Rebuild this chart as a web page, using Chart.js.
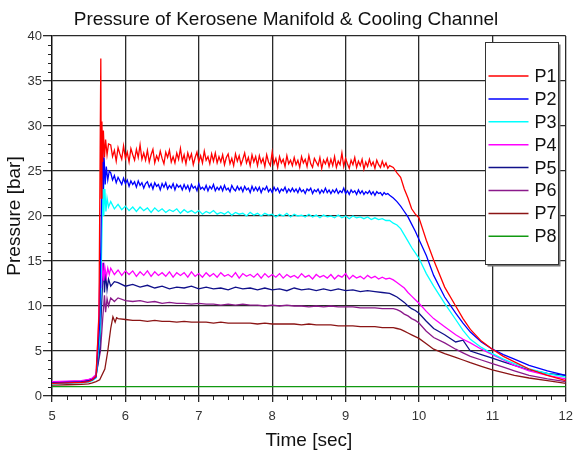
<!DOCTYPE html>
<html>
<head>
<meta charset="utf-8">
<script src="https://cdn.jsdelivr.net/npm/chart.js@4"></script>
<style>
  html, body { margin: 0; padding: 0; background: #fff; }
</style>
</head>
<body>
<canvas id="chart" width="580" height="450"></canvas>
<script>
// sample times
const tPre = [5.0, 5.2, 5.4, 5.5, 5.55, 5.6];
// plateau sampling grids: dense 5.800..9.600 every 0.025, fine every 0.05, coarse 5.9..9.6 every 0.1
const tDense = Array.from({ length: 153 }, (_, i) => +(5.8 + i * 0.025).toFixed(3));
const tFine = Array.from({ length: 77 }, (_, i) => +(5.8 + i * 0.05).toFixed(2));
const tCoarse = Array.from({ length: 38 }, (_, i) => +(5.9 + i * 0.1).toFixed(2));
const tDecay = [9.65, 9.7, 9.75, 9.8, 9.85, 9.9, 9.95, 10.0, 10.1, 10.2, 10.35,
  10.5, 10.6, 10.7, 10.85, 11.0, 11.15, 11.3, 11.5, 11.75, 12.0];

const labels = ['P1', 'P2', 'P3', 'P4', 'P5', 'P6', 'P7', 'P8'];
const colors = ['#ff0000', '#0000ff', '#00ffff', '#ff00ff', '#10108a', '#8b1a8b', '#8b1515', '#119911'];

// P1
const p1Pre = [1.4, 1.45, 1.5, 1.6, 1.8, 2.2];
const p1RiseT = [5.64, 5.665, 5.672, 5.68, 5.69, 5.70, 5.715, 5.73, 5.75, 5.77];
const p1Rise = [9, 37.5, 22, 30.5, 26, 29.5, 26.5, 28.5, 26.8, 28];
const p1Plat = [
  27.9, 26.6, 27.3, 26.1, 27.6, 26.9, 26.3, 27.8, 26.4, 27.1, 26.0, 27.5, 26.8, 26.2, 27.4, 26.5, 27.9, 26.3, 27.0, 26.2,
  27.3, 26.0, 26.8, 27.4, 25.9, 26.7, 26.2, 27.2, 26.4, 25.8, 27.1, 26.5, 27.3, 26.0, 26.6, 25.9, 27.0, 26.3, 27.5, 26.1,
  26.8, 25.8, 27.0, 26.3, 26.9, 25.7, 26.5, 27.1, 26.0, 26.7, 25.9, 27.2, 26.2, 26.6, 25.8, 26.9, 26.1, 27.0, 25.9, 26.6,
  26.0, 26.8, 25.7, 26.5, 26.9, 25.8, 26.4, 25.6, 26.9, 26.1, 26.7, 25.7, 26.3, 27.0, 25.9, 26.5, 25.6, 26.8, 26.0, 26.6,
  25.6, 26.7, 25.9, 26.4, 25.5, 26.8, 26.0, 25.6, 27.1, 25.8, 26.4, 25.4, 26.6, 25.9, 26.3, 25.5, 26.7, 25.8, 26.2, 25.6,
  26.5, 25.7, 26.2, 25.4, 26.6, 25.9, 26.3, 25.5, 26.7, 25.8, 25.4, 26.4, 26.0, 25.6, 26.5, 25.3, 26.2, 25.8, 26.4, 25.5,
  26.3, 25.6, 26.6, 25.4, 26.1, 25.7, 27.0, 25.5, 26.4, 25.8, 25.3, 26.2, 25.7, 26.5, 25.4, 26.1, 25.6, 26.3, 25.2, 26.0,
  25.5, 26.3, 25.6, 26.0, 25.3, 26.2, 25.7, 25.4, 26.1, 25.5, 25.9, 25.3, 25.6];
const p1Decay = [25.4, 24.8, 24.3, 23.0, 22.0, 20.8, 20.2, 19.8, 17.3, 15.1, 12.1,
  10.0, 8.6, 7.4, 6.1, 5.2, 4.4, 3.8, 3.0, 2.3, 1.7];

// P2
const p2Pre = [1.45, 1.5, 1.55, 1.65, 1.8, 2.1];
const p2RiseT = [5.65, 5.675, 5.69, 5.70, 5.71, 5.725, 5.74, 5.76, 5.78];
const p2Rise = [8, 22, 28.4, 23, 26.5, 23.5, 25.5, 24, 25];
const p2Plat = [
  24.8, 24.0, 24.5, 23.7, 24.3, 23.9, 23.5, 24.2, 23.6, 24.0, 23.3, 23.9, 23.5, 23.8, 23.2, 23.9, 23.4, 23.7, 23.1, 23.6,
  23.8, 23.2, 23.6, 23.0, 23.7, 23.3, 23.5, 22.9, 23.6, 23.2, 23.7, 23.0, 23.4, 23.1, 23.6, 22.9, 23.5, 23.2, 23.4, 22.9,
  23.5, 23.0, 23.4, 22.8, 23.5, 23.1, 23.3, 22.8, 23.6, 23.0, 23.2, 22.9, 23.4, 22.8, 23.3, 23.0, 23.5, 22.8, 23.2, 22.9,
  23.3, 22.8, 23.4, 22.9, 23.1, 22.7, 23.4, 23.0, 22.8, 23.3, 22.9, 23.2, 22.7, 23.3, 22.9, 23.1, 22.6, 23.3, 22.8, 23.2,
  22.8, 23.2, 22.6, 23.1, 22.9, 23.3, 22.7, 23.0, 22.6, 23.2, 22.8, 23.1, 22.6, 23.0, 22.8, 23.2, 22.6, 23.0, 22.7, 23.1,
  22.7, 23.0, 22.6, 23.1, 22.7, 22.9, 22.5, 23.0, 22.8, 23.1, 22.5, 22.9, 22.7, 23.0, 22.5, 22.9, 22.6, 23.1, 22.6, 22.9,
  22.5, 22.9, 22.6, 23.0, 22.5, 22.8, 22.6, 23.1, 22.5, 22.8, 22.4, 22.9, 22.6, 22.8, 22.4, 22.9, 22.5, 22.8, 22.4, 22.7,
  22.5, 22.8, 22.4, 22.7, 22.3, 22.7, 22.5, 22.6, 22.3, 22.6, 22.4, 22.5, 22.3];
const p2Decay = [22.0, 21.6, 21.1, 20.5, 19.9, 19.1, 18.3, 17.4, 15.6, 13.4, 11.0,
  9.2, 8.1, 7.1, 6.0, 5.2, 4.6, 4.1, 3.4, 2.8, 2.3];

// P3
const p3Pre = [1.35, 1.4, 1.45, 1.55, 1.7, 2.0];
const p3RiseT = [5.655, 5.68, 5.695, 5.705, 5.72, 5.735, 5.75, 5.77];
const p3Rise = [7, 18, 24.5, 20, 23, 20.5, 22, 21];
const p3Plat = [
  21.6, 20.8, 21.3, 20.7, 21.1, 20.6, 21.0, 20.5, 21.0, 20.6,
  20.9, 20.4, 20.9, 20.5, 20.8, 20.4, 20.7, 20.5, 20.8, 20.3,
  20.7, 20.4, 20.6, 20.3, 20.6, 20.2, 20.5, 20.3, 20.6, 20.2,
  20.4, 20.2, 20.5, 20.1, 20.4, 20.2, 20.3, 20.0, 20.4, 20.1,
  20.3, 20.0, 20.3, 20.1, 20.2, 19.9, 20.2, 20.0, 20.3, 19.9,
  20.2, 20.0, 20.1, 19.9, 20.2, 19.9, 20.1, 19.8, 20.1, 19.9,
  20.0, 19.8, 20.1, 19.8, 20.0, 19.7, 20.0, 19.8, 19.9, 19.7,
  19.9, 19.6, 19.8, 19.6, 19.7, 19.5, 19.5];
const p3Decay = [19.2, 19.0, 18.6, 17.9, 17.2, 16.5, 15.9, 15.3, 13.6, 12.2, 10.3,
  8.5, 7.3, 6.3, 5.4, 4.7, 4.1, 3.6, 3.0, 2.5, 2.1];

// P4
const p4Pre = [1.6, 1.65, 1.7, 1.85, 2.0, 2.4];
const p4RiseT = [5.63, 5.66, 5.675, 5.69, 5.705, 5.72, 5.74, 5.76, 5.78];
const p4Rise = [7, 15.8, 12, 14.8, 12.8, 14.3, 13.2, 14.2, 13.5];
const p4Plat = [
  14.2, 13.5, 14.0, 13.4, 13.9, 13.5, 13.9, 13.3, 13.8, 13.4,
  13.9, 13.3, 13.8, 13.4, 13.7, 13.3, 13.8, 13.2, 13.7, 13.4,
  13.7, 13.2, 13.8, 13.3, 13.6, 13.2, 13.7, 13.3, 13.6, 13.2,
  13.7, 13.3, 13.5, 13.2, 13.7, 13.1, 13.6, 13.3, 13.5, 13.2,
  13.6, 13.1, 13.6, 13.2, 13.5, 13.2, 13.6, 13.1, 13.5, 13.2,
  13.4, 13.1, 13.6, 13.2, 13.4, 13.0, 13.5, 13.2, 13.4, 13.1,
  13.5, 13.0, 13.4, 13.2, 13.6, 13.0, 13.4, 13.1, 13.3, 13.0,
  13.4, 13.1, 13.3, 13.0, 13.2, 13.0, 13.1];
const p4Decay = [12.9, 12.6, 12.3, 12.0, 11.5, 11.1, 10.7, 10.3, 9.4, 8.6, 7.7,
  6.8, 6.3, 5.9, 5.2, 4.6, 4.0, 3.4, 2.8, 2.3, 1.9];

// P5
const p5Pre = [1.5, 1.55, 1.6, 1.75, 1.9, 2.2];
const p5RiseT = [5.65, 5.68, 5.70, 5.715, 5.73, 5.75, 5.77, 5.80, 5.85];
const p5Rise = [5, 11, 14.8, 11.5, 13.6, 11.8, 13.0, 12.2, 12.7];
const p5Plat = [
  12.6, 12.2, 12.4, 12.1, 12.3, 12.0, 12.2, 11.9, 12.1, 12.0,
  12.2, 11.9, 12.1, 11.9, 12.0, 11.8, 12.1, 11.9, 12.0, 11.8,
  12.0, 11.8, 11.9, 11.7, 12.0, 11.8, 11.9, 11.7, 11.9, 11.7,
  11.9, 11.7, 11.8, 11.6, 11.7, 11.6, 11.5, 11.4];
const p5Decay = [11.2, 11.0, 10.7, 10.4, 10.0, 9.7, 9.5, 9.2, 8.3, 7.5, 6.8,
  6.0, 6.2, 5.0, 4.6, 4.2, 3.8, 3.4, 2.9, 2.5, 2.3];

// P6
const p6Pre = [1.55, 1.6, 1.65, 1.8, 1.95, 2.3];
const p6RiseT = [5.66, 5.69, 5.715, 5.73, 5.75, 5.77, 5.80, 5.85];
const p6Rise = [5, 8.5, 11.2, 9.3, 10.8, 10.0, 10.9, 10.5];
const p6Plat = [
  10.9, 10.6, 10.5, 10.6, 10.4, 10.5, 10.3, 10.4, 10.3, 10.3,
  10.2, 10.3, 10.2, 10.2, 10.1, 10.2, 10.1, 10.2, 10.1, 10.1,
  10.0, 10.1, 10.0, 10.1, 10.0, 10.0, 9.9, 10.0, 9.9, 10.0,
  9.9, 9.9, 9.9, 9.8, 9.8, 9.8, 9.7, 9.7];
const p6Decay = [9.7, 9.6, 9.4, 9.1, 8.9, 8.6, 8.4, 8.1, 7.2, 6.5, 5.9,
  5.2, 4.8, 4.4, 4.0, 3.6, 3.2, 2.8, 2.3, 1.9, 1.6];

// P7
const p7Pre = [1.2, 1.25, 1.3, 1.35, 1.45, 1.6];
const p7RiseT = [5.65, 5.72, 5.76, 5.80, 5.83, 5.86, 5.88];
const p7Rise = [1.8, 3.0, 5.0, 7.5, 8.8, 8.2, 8.7];
const p7Plat = [
  8.6, 8.5, 8.4, 8.4, 8.3, 8.4, 8.3, 8.3, 8.2, 8.3,
  8.2, 8.2, 8.2, 8.1, 8.2, 8.1, 8.1, 8.1, 8.1, 8.0,
  8.1, 8.0, 8.0, 8.0, 8.0, 7.9, 8.0, 7.9, 7.9, 7.9,
  7.8, 7.8, 7.8, 7.7, 7.7, 7.7, 7.6, 7.6];
const p7Decay = [7.6, 7.5, 7.4, 7.2, 7.0, 6.8, 6.6, 6.4, 5.8, 5.2, 4.7,
  4.3, 4.0, 3.7, 3.3, 2.9, 2.6, 2.3, 2.0, 1.7, 1.4];

// P8 (flat)
const tP8 = [5.0, 12.0];
const p8 = [1.05, 1.05];

function build(pre, riseT, rise, platT, plat, decay) {
  const pts = [];
  tPre.forEach((t, i) => pts.push({ x: t, y: pre[i] }));
  riseT.forEach((t, i) => pts.push({ x: t, y: rise[i] }));
  plat.forEach((v, i) => pts.push({ x: platT[i], y: v }));
  tDecay.forEach((t, i) => pts.push({ x: t, y: decay[i] }));
  return pts;
}

const seriesPts = [
  build(p1Pre, p1RiseT, p1Rise, tDense, p1Plat, p1Decay),
  build(p2Pre, p2RiseT, p2Rise, tDense, p2Plat, p2Decay),
  build(p3Pre, p3RiseT, p3Rise, tFine, p3Plat, p3Decay),
  build(p4Pre, p4RiseT, p4Rise, tFine, p4Plat, p4Decay),
  build(p5Pre, p5RiseT, p5Rise, tCoarse, p5Plat, p5Decay),
  build(p6Pre, p6RiseT, p6Rise, tCoarse, p6Plat, p6Decay),
  build(p7Pre, p7RiseT, p7Rise, tCoarse, p7Plat, p7Decay),
  tP8.map((t, i) => ({ x: t, y: p8[i] }))
];

const datasets = seriesPts.map((pts, i) => ({
  label: labels[i],
  data: pts,
  borderColor: colors[i],
  backgroundColor: colors[i],
  borderWidth: 1.3,
  pointRadius: 0,
  tension: 0,
  fill: false
}));

const FONT = "'Liberation Sans', Arial, sans-serif";

// small outward ticks between the major ones
const minorTicks = {
  id: 'minorTicks',
  afterDraw(chart) {
    const { ctx, scales: { x, y }, chartArea: a } = chart;
    ctx.save();
    ctx.strokeStyle = '#222';
    ctx.lineWidth = 1;
    ctx.beginPath();
    for (let i = 1; i < 35; i++) {
      if (i % 5 === 0) continue;
      const px = Math.round(x.getPixelForValue(5 + i * 0.2)) + 0.5;
      ctx.moveTo(px, a.bottom);
      ctx.lineTo(px, a.bottom + 4);
    }
    for (let v = 1; v < 40; v++) {
      if (v % 5 === 0) continue;
      const py = Math.round(y.getPixelForValue(v)) + 0.5;
      ctx.moveTo(a.left - 4, py);
      ctx.lineTo(a.left, py);
    }
    ctx.stroke();
    ctx.restore();
  }
};

// boxed legend inside the plot, top right
const boxLegend = {
  id: 'boxLegend',
  afterDraw(chart) {
    const { ctx, chartArea: a } = chart;
    const bx = Math.round(a.right - 81) + 0.5, by = Math.round(a.top + 6) + 0.5;
    const bw = 73, bh = 222;
    ctx.save();
    ctx.fillStyle = '#777';
    ctx.fillRect(bx + 2, by + 2, bw, bh);
    ctx.fillStyle = '#fff';
    ctx.fillRect(bx, by, bw, bh);
    ctx.strokeStyle = '#333';
    ctx.lineWidth = 1;
    ctx.strokeRect(bx, by, bw, bh);
    ctx.font = '18px ' + FONT;
    ctx.textBaseline = 'middle';
    ctx.fillStyle = '#111';
    chart.data.datasets.forEach((ds, i) => {
      const ry = by + 33.5 + i * 22.9;
      ctx.strokeStyle = ds.borderColor;
      ctx.lineWidth = 1.5;
      ctx.beginPath();
      ctx.moveTo(bx + 3, ry);
      ctx.lineTo(bx + 43, ry);
      ctx.stroke();
      ctx.fillText(ds.label, bx + 49, ry + 1);
    });
    ctx.restore();
  }
};

new Chart(document.getElementById('chart').getContext('2d'), {
  type: 'line',
  data: { datasets },
  options: {
    responsive: false,
    animation: false,
    layout: { padding: { left: 0, right: 8, top: 0, bottom: 0 } },
    plugins: {
      legend: { display: false },
      tooltip: { enabled: false },
      title: {
        display: true,
        text: 'Pressure of Kerosene Manifold & Cooling Channel',
        color: '#111',
        font: { family: FONT, size: 19, weight: 'normal', lineHeight: 1.2 },
        padding: { top: 8, bottom: 5.2 }
      }
    },
    scales: {
      x: {
        type: 'linear',
        min: 5,
        max: 12,
        ticks: { stepSize: 1, color: '#333', font: { family: FONT, size: 13 }, padding: 7, maxRotation: 0 },
        grid: { color: '#2a2a2a', lineWidth: 1.3, tickLength: 6 },
        border: { color: '#111', width: 1.3 },
        title: {
          display: true,
          text: 'Time [sec]',
          color: '#111',
          font: { family: FONT, size: 19, lineHeight: 1 },
          padding: { top: 0, bottom: 0 }
        },
        afterFit: s => { s.height = 54; }
      },
      y: {
        min: 0,
        max: 40,
        ticks: { stepSize: 5, color: '#333', font: { family: FONT, size: 13 }, padding: 1 },
        grid: { color: '#2a2a2a', lineWidth: 1.3, tickLength: 9 },
        border: { color: '#111', width: 1.3 },
        title: {
          display: true,
          text: 'Pressure [bar]',
          color: '#111',
          font: { family: FONT, size: 19, lineHeight: 1 },
          padding: { top: 5, bottom: 0 }
        },
        afterFit: s => { s.width = 52; }
      }
    }
  },
  plugins: [minorTicks, boxLegend]
});
</script>
</body>
</html>
